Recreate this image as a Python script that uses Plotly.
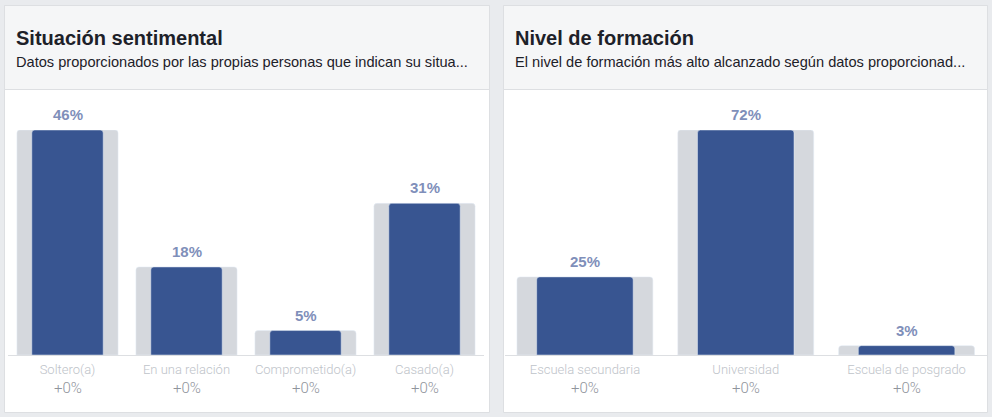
import plotly.graph_objects as go

# ---- data ----
rel_categories = ["Soltero(a)", "En una relación", "Comprometido(a)", "Casado(a)"]
rel_values = [46, 18, 5, 31]
rel_baseline = [46, 18, 5, 31]
rel_change = ["+0%", "+0%", "+0%", "+0%"]

edu_categories = ["Escuela secundaria", "Universidad", "Escuela de posgrado"]
edu_values = [25, 72, 3]
edu_baseline = [25, 72, 3]
edu_change = ["+0%", "+0%", "+0%"]

rel_title = "Situación sentimental"
rel_subtitle = "Datos proporcionados por las propias personas que indican su situa..."
edu_title = "Nivel de formación"
edu_subtitle = "El nivel de formación más alto alcanzado según datos proporcionad..."

W, H = 992, 417
FONT = "Liberation Sans, Arial, Helvetica, sans-serif"
LIGHT = "Roboto, Liberation Sans, Arial, sans-serif"
BLUE = "#385591"
GRAY = "#d5d8dd"
LABEL_BLUE = "#7f8fba"


def px(x):
    return x / W


def py(y):
    return 1 - y / H


fig = go.Figure()

panels = [
    dict(cats=rel_categories, vals=rel_values, base=rel_baseline, chg=rel_change,
         title=rel_title, sub=rel_subtitle, xa="x", ya="y",
         dom=[px(8), px(484)], box=(4.5, 489.5), gw=0.85, bw=0.60),
    dict(cats=edu_categories, vals=edu_values, base=edu_baseline, chg=edu_change,
         title=edu_title, sub=edu_subtitle, xa="x2", ya="y2",
         dom=[px(504.5), px(987)], box=(503.5, 987.5), gw=0.845, bw=0.60),
]

shapes = []
annotations = []
for i, p in enumerate(panels):
    x0, x1 = p["box"]
    # panel body
    shapes.append(dict(type="rect", xref="paper", yref="paper", layer="below",
                       x0=px(x0), x1=px(x1), y0=py(412.5), y1=py(5.5),
                       fillcolor="white", line=dict(color="#dddfe2", width=1)))
    # header
    shapes.append(dict(type="rect", xref="paper", yref="paper", layer="below",
                       x0=px(x0), x1=px(x1), y0=py(89.5), y1=py(5.5),
                       fillcolor="#f5f6f7", line=dict(color="#dddfe2", width=1)))
    annotations.append(dict(xref="paper", yref="paper", x=px(x0 + 9), y=py(38),
                            xanchor="left", yanchor="middle", showarrow=False,
                            text="<b>" + p["title"] + "</b>",
                            font=dict(family=FONT, size=20, color="#1d2129")))
    annotations.append(dict(xref="paper", yref="paper", x=px(x0 + 9.5), y=py(62.5),
                            xanchor="left", yanchor="middle", showarrow=False,
                            text=p["sub"],
                            font=dict(family=FONT, size=14.6, color="#1d2129")))

    fig.add_trace(go.Bar(x=p["cats"], y=p["base"], width=p["gw"], marker_color=GRAY,
                         xaxis=p["xa"], yaxis=p["ya"], hoverinfo="skip", showlegend=False))
    fig.add_trace(go.Bar(x=p["cats"], y=p["vals"], width=p["bw"], marker_color=BLUE,
                         xaxis=p["xa"], yaxis=p["ya"], showlegend=False))
    for c, v, ch in zip(p["cats"], p["vals"], p["chg"]):
        annotations.append(dict(xref=p["xa"], yref=p["ya"], x=c, y=v, yanchor="bottom",
                                yshift=5, showarrow=False, text="<b>%d%%</b>" % v,
                                font=dict(family=FONT, size=15, color=LABEL_BLUE)))
        annotations.append(dict(xref=p["xa"], yref="paper", x=c, y=py(387.5),
                                yanchor="middle", showarrow=False, text=ch,
                                font=dict(family=LIGHT, size=15, color="#90949c",
                                          weight=300)))

common_x = dict(type="category", showgrid=False, zeroline=False, showline=True,
                linecolor="#dddfe2", linewidth=1, ticks="outside", ticklen=2,
                tickcolor="rgba(0,0,0,0)",
                tickfont=dict(family=LIGHT, size=13, color="#bec3c9", weight=300))
common_y = dict(visible=False, showgrid=False, zeroline=False, fixedrange=True)

fig.update_layout(
    width=W, height=H,
    margin=dict(l=0, r=0, t=0, b=0),
    paper_bgcolor="#e9ebee",
    plot_bgcolor="rgba(0,0,0,0)",
    barmode="overlay",
    barcornerradius=3,
    shapes=shapes,
    annotations=annotations,
    xaxis=dict(domain=panels[0]["dom"], range=[-0.5, len(rel_categories) - 0.5],
               anchor="y", **common_x),
    yaxis=dict(domain=[py(355), py(130)], range=[0, max(rel_values + rel_baseline)],
               anchor="x", **common_y),
    xaxis2=dict(domain=panels[1]["dom"], range=[-0.5, len(edu_categories) - 0.5],
                anchor="y2", **common_x),
    yaxis2=dict(domain=[py(355), py(130)], range=[0, max(edu_values + edu_baseline)],
                anchor="x2", **common_y),
    font=dict(family=FONT),
)

fig.write_html(
    "out.html",
    config={"displayModeBar": False},
    post_script="document.body.style.margin='0';document.body.style.background='#e9ebee';",
)
